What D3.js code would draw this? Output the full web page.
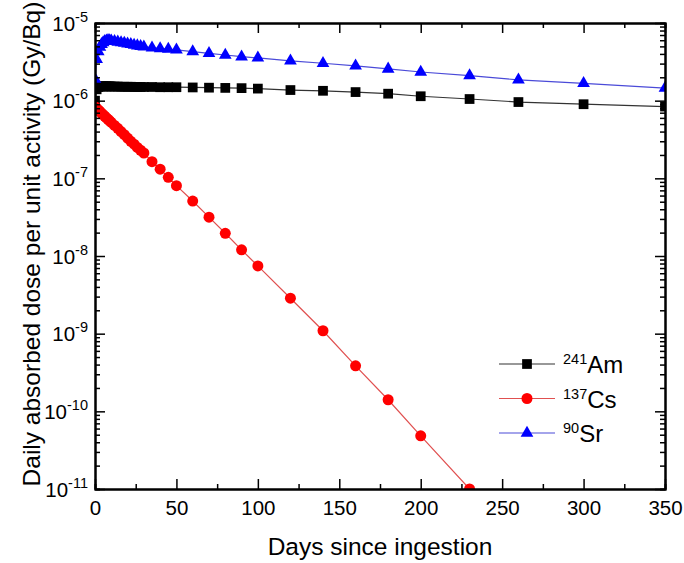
<!DOCTYPE html>
<html lang="en">
<head>
<meta charset="UTF-8" />
<title>Daily absorbed dose per unit activity</title>
<script src="https://d3js.org/d3.v7.min.js"></script>
<style>
  body { margin: 0; background: #fff; }
  svg { display: block; font-family: Arial, "Liberation Sans", sans-serif; }
  .axis path { stroke: #000; stroke-width: 2px; }
  .axis line { stroke: #000; stroke-width: 1.5px; }
  .axis text { font-size: 20.5px; fill: #000; font-family: Arial, "Liberation Sans", sans-serif; }
  .title { font-size: 24.5px; fill: #000; }
  .legend text { font-size: 24px; fill: #000; }
</style>
</head>
<body>
<svg id="chart" width="684" height="563"></svg>
<script>
// days since ingestion
const days = [0, 1, 2, 3, 4, 5, 6, 7, 8, 9, 10, 12, 14, 16, 18, 20, 22, 24, 26, 28, 30,
  35, 40, 45, 50, 60, 70, 80, 90, 100, 120, 140, 160, 180, 200, 230, 260, 300, 350];

// daily absorbed dose per unit activity (Gy/Bq)
const am241 = [1.0e-6, 1.40e-6, 1.50e-6, 1.52e-6, 1.53e-6, 1.53e-6, 1.53e-6, 1.53e-6, 1.53e-6, 1.53e-6,
  1.52e-6, 1.52e-6, 1.52e-6, 1.51e-6, 1.51e-6, 1.51e-6, 1.51e-6, 1.50e-6, 1.50e-6, 1.50e-6, 1.50e-6,
  1.50e-6, 1.49e-6, 1.49e-6, 1.49e-6, 1.48e-6, 1.47e-6, 1.46e-6, 1.45e-6, 1.43e-6, 1.37e-6, 1.34e-6,
  1.29e-6, 1.23e-6, 1.14e-6, 1.05e-6, 9.6e-7, 9.0e-7, 8.4e-7];

const cs137 = [8.4e-7, 8.0e-7, 7.6e-7, 7.3e-7, 6.9e-7, 6.6e-7, 6.3e-7, 6.0e-7, 5.75e-7, 5.5e-7,
  5.25e-7, 4.8e-7, 4.4e-7, 4.0e-7, 3.65e-7, 3.3e-7, 3.0e-7, 2.75e-7, 2.5e-7, 2.3e-7, 2.12e-7,
  1.64e-7, 1.31e-7, 1.03e-7, 8.05e-8, 5.1e-8, 3.16e-8, 1.96e-8, 1.2e-8, 7.46e-9, 2.86e-9, 1.09e-9,
  3.85e-10, 1.41e-10, 4.84e-11, 1.0e-11, null, null, null];

const sr90 = [1.9e-6, 3.4e-6, 4.3e-6, 4.9e-6, 5.3e-6, 5.6e-6, 5.8e-6, 5.9e-6, 6.0e-6, 5.95e-6,
  5.9e-6, 5.8e-6, 5.7e-6, 5.6e-6, 5.5e-6, 5.4e-6, 5.3e-6, 5.2e-6, 5.1e-6, 5.0e-6, 4.95e-6,
  4.8e-6, 4.7e-6, 4.6e-6, 4.5e-6, 4.27e-6, 4.07e-6, 3.87e-6, 3.68e-6, 3.55e-6, 3.26e-6, 3.03e-6,
  2.80e-6, 2.56e-6, 2.34e-6, 2.10e-6, 1.85e-6, 1.67e-6, 1.45e-6];

const xTicks = [0, 50, 100, 150, 200, 250, 300, 350];
const xMinor = [25, 75, 125, 175, 225, 275, 325];
const yTicks = [1e-5, 1e-6, 1e-7, 1e-8, 1e-9, 1e-10, 1e-11];
const yExp = ["-5", "-6", "-7", "-8", "-9", "-10", "-11"];

const series = [
  { name: "Am", mass: "241", values: am241, color: "#000", line: "#333", symbol: d3.symbolSquare, size: 95 },
  { name: "Cs", mass: "137", values: cs137, color: "#ff0000", line: "#e05050", symbol: d3.symbolCircle, size: 95 },
  { name: "Sr", mass: "90", values: sr90, color: "#0000ff", line: "#4a4ad8", symbol: d3.symbolTriangle, size: 70 }
];

const plotLeft = 95, plotRight = 665, plotTop = 23, plotBottom = 489;
const svg = d3.select("#chart");

const x = d3.scaleLinear().domain([0, 350]).range([plotLeft, plotRight]);
const y = d3.scaleLog().domain([1e-11, 1e-5]).range([plotBottom, plotTop]);
const yMinor = y.ticks().filter(v => !yTicks.some(t => Math.abs(t - v) / t < 1e-6));

svg.append("clipPath").attr("id", "plot-clip")
  .append("rect").attr("x", plotLeft).attr("y", plotTop)
  .attr("width", plotRight - plotLeft).attr("height", plotBottom - plotTop);

const plot = svg.append("g").attr("clip-path", "url(#plot-clip)");

// lines then markers for each nuclide
series.forEach(s => {
  const pts = days.map((d, i) => ({ d, v: s.values[i] })).filter(p => p.v != null);
  plot.append("path")
    .datum(pts)
    .attr("fill", "none")
    .attr("stroke", s.line)
    .attr("stroke-width", 1.2)
    .attr("d", d3.line().x(p => x(p.d)).y(p => y(p.v)));
  plot.selectAll(null)
    .data(pts)
    .enter()
    .append("path")
    .attr("transform", p => `translate(${x(p.d)},${y(p.v)})`)
    .attr("d", d3.symbol().type(s.symbol).size(s.size))
    .attr("fill", s.color);
});

// axes: ticks point inward on all four sides
function addAxis(axis, tx, ty) {
  return svg.append("g").attr("class", "axis").attr("transform", `translate(${tx},${ty})`).call(axis);
}

addAxis(d3.axisBottom(x).tickValues(xMinor).tickSize(-5).tickFormat(""), 0, plotBottom);
addAxis(d3.axisTop(x).tickValues(xMinor).tickSize(-5).tickFormat(""), 0, plotTop);
addAxis(d3.axisLeft(y).tickValues(yMinor).tickSize(-5).tickFormat(""), plotLeft, 0);
addAxis(d3.axisRight(y).tickValues(yMinor).tickSize(-5).tickFormat(""), plotRight, 0);

addAxis(d3.axisBottom(x).tickValues(xTicks).tickSizeInner(-10).tickSizeOuter(0).tickPadding(11), 0, plotBottom);
addAxis(d3.axisTop(x).tickValues(xTicks).tickSizeInner(-10).tickSizeOuter(0).tickFormat(""), 0, plotTop);
addAxis(d3.axisRight(y).tickValues(yTicks).tickSizeInner(-10).tickSizeOuter(0).tickFormat(""), plotRight, 0);
const yAxis = addAxis(d3.axisLeft(y).tickValues(yTicks).tickSizeInner(-10).tickSizeOuter(0).tickFormat(""), plotLeft, 0);

// powers of ten with superscript exponents
yAxis.selectAll(".tick").each(function(d, i) {
  const t = d3.select(this).append("text")
    .attr("x", -7).attr("dy", "0.35em").attr("text-anchor", "end").attr("fill", "#000");
  t.append("tspan").text("10");
  t.append("tspan").attr("font-size", "14.5px").attr("dy", "-9").text(yExp[i]);
});

svg.append("text").attr("class", "title")
  .attr("x", (plotLeft + plotRight) / 2).attr("y", 555)
  .attr("text-anchor", "middle")
  .text("Days since ingestion");

svg.append("text").attr("class", "title")
  .attr("transform", "translate(40,244) rotate(-90)")
  .attr("text-anchor", "middle")
  .text("Daily absorbed dose per unit activity (Gy/Bq)");

// legend
const legend = svg.append("g").attr("class", "legend");
const rowY = d3.scalePoint().domain(series.map(s => s.name)).range([364, 433]);
series.forEach(s => {
  const g = legend.append("g").attr("transform", `translate(0,${rowY(s.name)})`);
  g.append("line").attr("x1", 499).attr("x2", 555).attr("stroke", s.line).attr("stroke-width", 1.2);
  g.append("path").attr("transform", "translate(527,0)")
    .attr("d", d3.symbol().type(s.symbol).size(s.size)).attr("fill", s.color);
  const t = g.append("text").attr("x", 563).attr("y", 9);
  t.append("tspan").attr("font-size", "14.5px").attr("dy", "-9").text(s.mass);
  t.append("tspan").attr("dy", "9").text(s.name);
});
</script>
</body>
</html>
